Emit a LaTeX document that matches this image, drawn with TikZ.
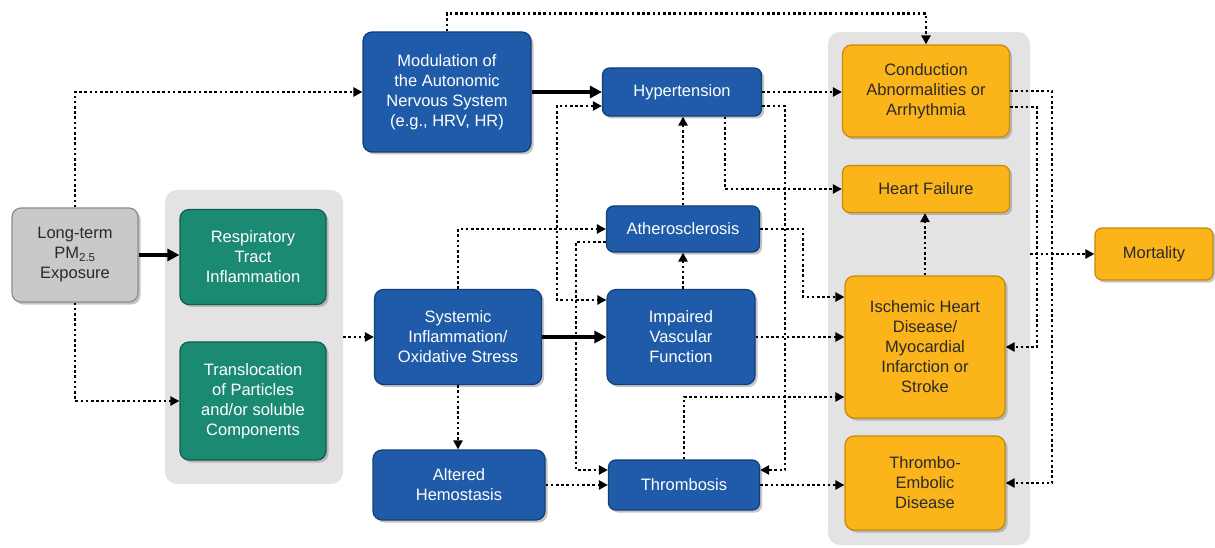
\documentclass[tikz,border=0pt]{standalone}
\usepackage{fontspec}
\setmainfont{Liberation Sans}
\usetikzlibrary{arrows.meta,shadows}
\definecolor{bluef}{HTML}{1F5BA8}
\definecolor{blued}{HTML}{123F7A}
\definecolor{greenf}{HTML}{1B8A72}
\definecolor{greend}{HTML}{0F5E4D}
\definecolor{yellowf}{HTML}{FBB41A}
\definecolor{yellowd}{HTML}{C88A05}
\definecolor{grayf}{HTML}{C9C9C9}
\definecolor{grayd}{HTML}{8C8C8C}
\definecolor{panelf}{HTML}{E3E3E3}
\definecolor{textd}{HTML}{2A2A2A}
\begin{document}
\begin{tikzpicture}[x=1pt,y=-1pt,
  box/.style={rounded corners=9pt, line width=1.2pt, align=center, inner sep=2pt,
    font=\fontsize{16.5}{20}\selectfont,
    drop shadow={opacity=0.45,shadow xshift=2.5pt,shadow yshift=-2.5pt}},
  bluebox/.style={box, fill=bluef, draw=blued, text=white},
  greenbox/.style={box, fill=greenf, draw=greend, text=white},
  yellowbox/.style={box, fill=yellowf, draw=yellowd, text=textd},
  graybox/.style={box, fill=grayf, draw=grayd, text=textd},
  panel/.style={rounded corners=12pt, fill=panelf, draw=none, inner sep=0pt},
  dotarr/.style={line width=2.6pt, dash pattern=on 2.6pt off 2.6pt, -{Triangle[length=9pt,width=9pt]}},
  dotboth/.style={line width=2.6pt, dash pattern=on 2.6pt off 2.6pt, {Triangle[length=9pt,width=9pt]}-{Triangle[length=9pt,width=9pt]}},
  solidarr/.style={line width=3.2pt, -{Triangle[length=12pt,width=12pt]}}
]
\useasboundingbox (0,0) rectangle (1215,548);
\fill[white] (0,0) rectangle (1215,548);

% panels
\node[panel, minimum width=178pt, minimum height=294pt] (lp) at (254,337) {};
\node[panel, minimum width=202pt, minimum height=513pt] (rp) at (929,288.5) {};

% nodes
\node[graybox, minimum width=126pt, minimum height=94pt] (pm) at (75,255) {Long-term\\PM\textsubscript{2.5}\\Exposure};
\node[greenbox, minimum width=146pt, minimum height=95pt] (resp) at (253,257) {Respiratory\\Tract\\Inflammation};
\node[greenbox, minimum width=146pt, minimum height=118pt] (trans) at (253,401) {Translocation\\of Particles\\and/or soluble\\Components};
\node[bluebox, minimum width=168pt, minimum height=120pt] (mod) at (447,92) {Modulation of\\the Autonomic\\Nervous System\\(e.g., HRV, HR)};
\node[bluebox, minimum width=159pt, minimum height=48pt, rounded corners=7pt] (hyp) at (682,92) {Hypertension};
\node[bluebox, minimum width=153pt, minimum height=46pt, rounded corners=7pt] (ath) at (683,229) {Atherosclerosis};
\node[bluebox, minimum width=167pt, minimum height=95pt] (sys) at (458,337) {Systemic\\Inflammation/\\Oxidative Stress};
\node[bluebox, minimum width=148pt, minimum height=95pt] (imp) at (681,337) {Impaired\\Vascular\\Function};
\node[bluebox, minimum width=172pt, minimum height=70pt] (alt) at (459,485) {Altered\\Hemostasis};
\node[bluebox, minimum width=151pt, minimum height=50pt, rounded corners=7pt] (thr) at (684,485) {Thrombosis};
\node[yellowbox, minimum width=167pt, minimum height=92pt] (cond) at (926,91) {Conduction\\Abnormalities or\\Arrhythmia};
\node[yellowbox, minimum width=167pt, minimum height=47pt, rounded corners=7pt] (hf) at (926,189) {Heart Failure};
\node[yellowbox, minimum width=160pt, minimum height=142pt] (isch) at (925,347) {Ischemic Heart\\Disease/\\Myocardial\\Infarction or\\Stroke};
\node[yellowbox, minimum width=160pt, minimum height=94pt] (te) at (925,483) {Thrombo-\\Embolic\\Disease};
\node[yellowbox, minimum width=118pt, minimum height=52pt, rounded corners=7pt] (mort) at (1154,254) {Mortality};

% connectors
\draw[solidarr] (pm.east) -- (pm.east -| resp.west);
\draw[dotarr] (pm.north) |- (mod.west);
\draw[dotarr] (pm.south) |- (trans.west);
\draw[dotarr] (lp.east |- sys.west) -- (sys.west);
\draw[solidarr] (mod.east) -- (hyp.west);
\draw[dotarr] (mod.north) -- ++(0,-18) -| (cond.north);
\draw[dotarr] (hyp.east) -- (hyp.east -| cond.west);
\draw[dotarr] ([xshift=43pt]hyp.south) |- (hf.west);
\draw[dotarr] ([yshift=-14pt]hyp.east) -- ++(23,0) |- ([yshift=15pt]thr.east);
\draw[dotboth] ([yshift=-14pt]hyp.west) -- ++(-45,0) |- ([yshift=37pt]imp.west);
\draw[dotarr] ([yshift=-13pt]ath.west) -- ++(-30,0) |- ([yshift=15pt]thr.west);
\draw[dotarr] (ath.north) -- (ath.north |- hyp.south);
\draw[dotarr] (imp.north -| ath.south) -- (ath.south);
\draw[solidarr] (sys.east) -- (imp.west);
\draw[dotarr] (sys.north) |- (ath.west);
\draw[dotarr] (sys.south) -- (sys.south |- alt.north);
\draw[dotarr] (alt.east) -- (alt.east -| thr.west);
\draw[dotarr] (thr.north) |- ([yshift=-50pt]isch.west);
\draw[dotarr] (thr.east) -- (thr.east -| te.west);
\draw[dotarr] (imp.east) -- (imp.east -| isch.west);
\draw[dotarr] (ath.east) -- ++(43,0) |- ([yshift=50pt]isch.west);
\draw[dotarr] (cond.east) -- ++(42,0) |- (te.east);
\draw[dotarr] ([yshift=-16pt]cond.east) -- ++(27,0) |- (isch.east);
\draw[dotarr] (isch.north) -- (isch.north |- hf.south);
\draw[dotarr] (rp.east |- mort.west) -- (mort.west);
\end{tikzpicture}
\end{document}
